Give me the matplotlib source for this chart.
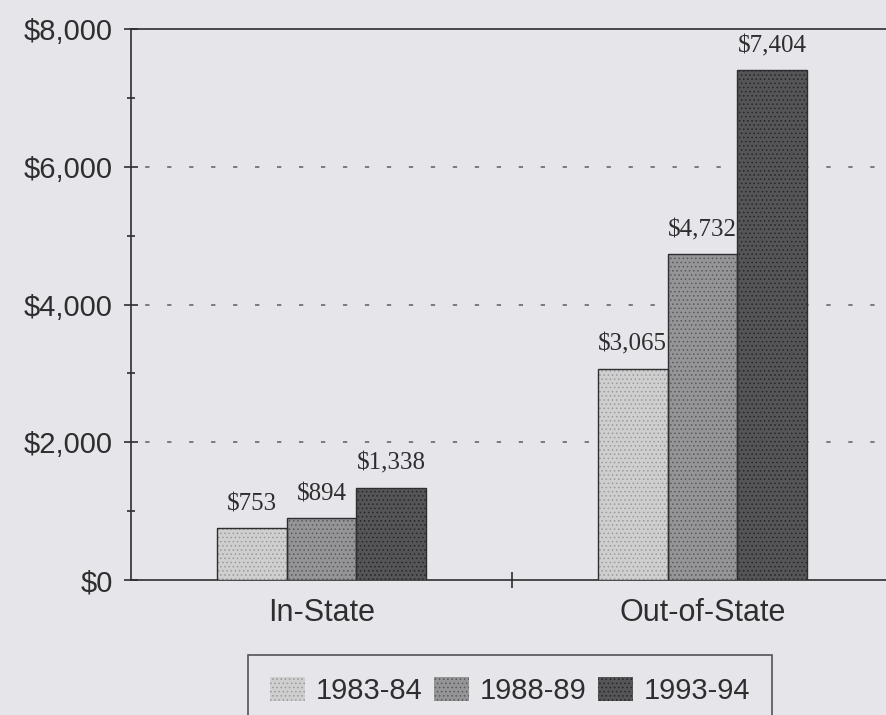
import matplotlib as mpl
mpl.use("Agg")
import matplotlib.pyplot as plt
from matplotlib.ticker import FuncFormatter, MultipleLocator
import numpy as np

# data
categories = ["In-State", "Out-of-State"]
years = ["1983-84", "1988-89", "1993-94"]
tuition = {
    "1983-84": [753, 3065],
    "1988-89": [894, 4732],
    "1993-94": [1338, 7404],
}

bar_colors = ["#cfcfd0", "#959597", "#555557"]
dot_colors = ["#9a9a9c", "#5a5a5c", "#262628"]
bg = "#e6e6ea"
ink = "#2e2e30"

mpl.rcParams.update({
    "font.family": ["Liberation Sans", "DejaVu Sans"],
    "hatch.linewidth": 0.6,
})

fig = plt.figure(figsize=(8.86, 7.15), dpi=100, facecolor=bg)
ax = fig.add_axes([131 / 886, 1 - 580 / 715, (893 - 131) / 886, (580 - 29) / 715])
ax.set_facecolor(bg)

x = np.arange(len(categories))
width = 0.183
for i, yr in enumerate(years):
    pos = x + (i - 1) * width
    vals = tuition[yr]
    bars = ax.bar(pos, vals, width, color=bar_colors[i], edgecolor=dot_colors[i],
                  hatch="....", linewidth=0, zorder=3)
    # dark outline drawn separately so hatch keeps its own colour
    ax.bar(pos, vals, width, facecolor="none", edgecolor=ink, linewidth=1.0, zorder=4)
    for b, v in zip(bars, vals):
        ax.annotate(f"${v:,}", (b.get_x() + b.get_width() / 2, v),
                    xytext=(0, 13), textcoords="offset points",
                    ha="center", va="baseline", fontsize=18,
                    family="Liberation Serif", color=ink)

ax.set_xlim(-0.5, 1.5)
ax.set_ylim(0, 8000)

# dotted gridlines
for gy in [2000, 4000, 6000]:
    ax.axhline(gy, color="#7a7a7c", linewidth=1.4, linestyle=(4, (2.2, 9.1)), zorder=1)

ax.spines["right"].set_visible(False)
for side in ["left", "top", "bottom"]:
    ax.spines[side].set_color(ink)
    ax.spines[side].set_linewidth(1.2)

ax.yaxis.set_major_locator(MultipleLocator(2000))
ax.yaxis.set_minor_locator(MultipleLocator(1000))
ax.yaxis.set_major_formatter(FuncFormatter(lambda v, p: f"${v:,.0f}"))
ax.tick_params(axis="y", which="major", direction="inout", length=10, width=1.2,
               color=ink, labelsize=21, labelcolor=ink, pad=8)
ax.tick_params(axis="y", which="minor", direction="inout", length=6, width=1.2, color=ink)

ax.set_xticks([0.5])
ax.set_xticklabels([""])
ax.set_xticks(x, minor=True)
ax.set_xticklabels(categories, minor=True)
ax.tick_params(axis="x", which="major", direction="inout", length=12, width=1.2, color=ink)
ax.tick_params(axis="x", which="minor", length=0, labelsize=22, labelcolor=ink, pad=13)

handles = [mpl.patches.Patch(facecolor=bar_colors[i], edgecolor=dot_colors[i], hatch="....",
                             linewidth=0) for i in range(3)]
leg = fig.legend(handles, years, loc="upper center", bbox_to_anchor=(0.576, 1 - 655 / 715),
                 ncol=3, fontsize=21, frameon=True, fancybox=False, handlelength=1.2,
                 handleheight=0.9, handletextpad=0.38, columnspacing=0.38, borderpad=0.75,
                 borderaxespad=0, labelcolor=ink)
leg.get_frame().set_edgecolor(ink)
leg.get_frame().set_linewidth(1.2)
leg.get_frame().set_facecolor(bg)

fig.savefig("out.png", dpi=100, facecolor=bg)
